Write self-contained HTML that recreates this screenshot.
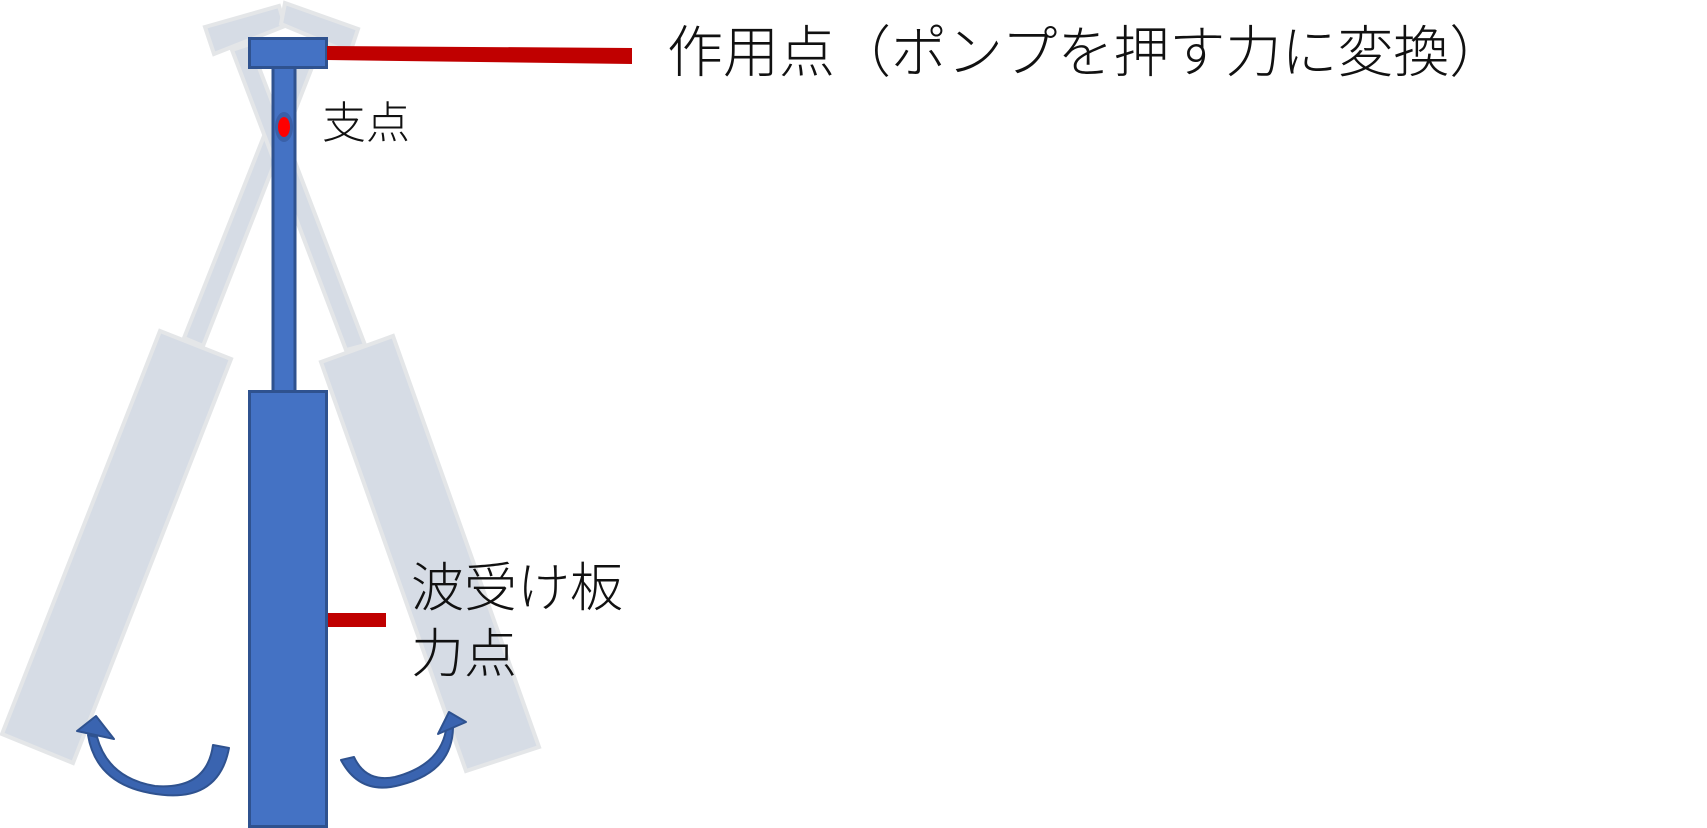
<!DOCTYPE html>
<html><head><meta charset="utf-8"><style>
html,body{margin:0;padding:0;background:#fff;width:1707px;height:828px;overflow:hidden;position:relative}
.t{position:absolute;font-family:"Liberation Sans","Noto Sans CJK JP",sans-serif;color:#111;white-space:nowrap;font-weight:300}
</style></head><body>
<svg width="1707" height="828" style="position:absolute;left:0;top:0">
<g fill="#d6dce5" stroke="#e4e6e8" stroke-width="4" stroke-linejoin="miter">
<polygon points="205,27 279,6 285,26 214,54"/>
<polygon points="285,3 358,29 350,53 281,24"/>
<polygon points="184,338 203,346 318,52 300,45"/>
<polygon points="232,50 250,44 365,345 346,350"/>
<polygon points="160,331 231,359 73,763 2,734"/>
<polygon points="321,362 393,336 539,747 466,771"/>
</g>
<g fill="#4472c4" stroke="#2f528f" stroke-width="3">
<rect x="273" y="62" width="22" height="330"/>
<rect x="249.5" y="38.5" width="77" height="29"/>
<rect x="249.5" y="391.5" width="77" height="435"/>
</g>
<ellipse cx="284" cy="127" rx="9" ry="15" fill="#3a60a8"/>
<ellipse cx="284" cy="127" rx="6" ry="10" fill="#ff0000"/>
<polygon points="327,46 632,48 632,64 327,60" fill="#c00000"/>
<rect x="328" y="613" width="58" height="14" fill="#c00000"/>
<g fill="#3a64b0" stroke="#2f528f" stroke-width="2" stroke-linejoin="round">
<path d="M229,748 Q218,806 150,793 Q96,783 88,735 L97,737 Q108,778 155,786 Q207,790 213,745 Z"/>
<path d="M341,760 Q360,796 400,785 Q452,772 453,728 L446,730 Q440,765 395,777 Q366,783 354,757 Z"/>
<polygon points="96,716 77,731 114,739"/>
<polygon points="449,712 438,734 466,722"/>
</g>
</svg>
<div class="t" style="left:667px;top:25px;font-size:56px;line-height:56px">作用点（ポンプを押す力に変換）</div>
<div class="t" style="left:322px;top:102px;font-size:44px;line-height:44px">支点</div>
<div class="t" style="left:411px;top:556px;font-size:53px;line-height:66px">波受け板<br>力点</div>
</body></html>
